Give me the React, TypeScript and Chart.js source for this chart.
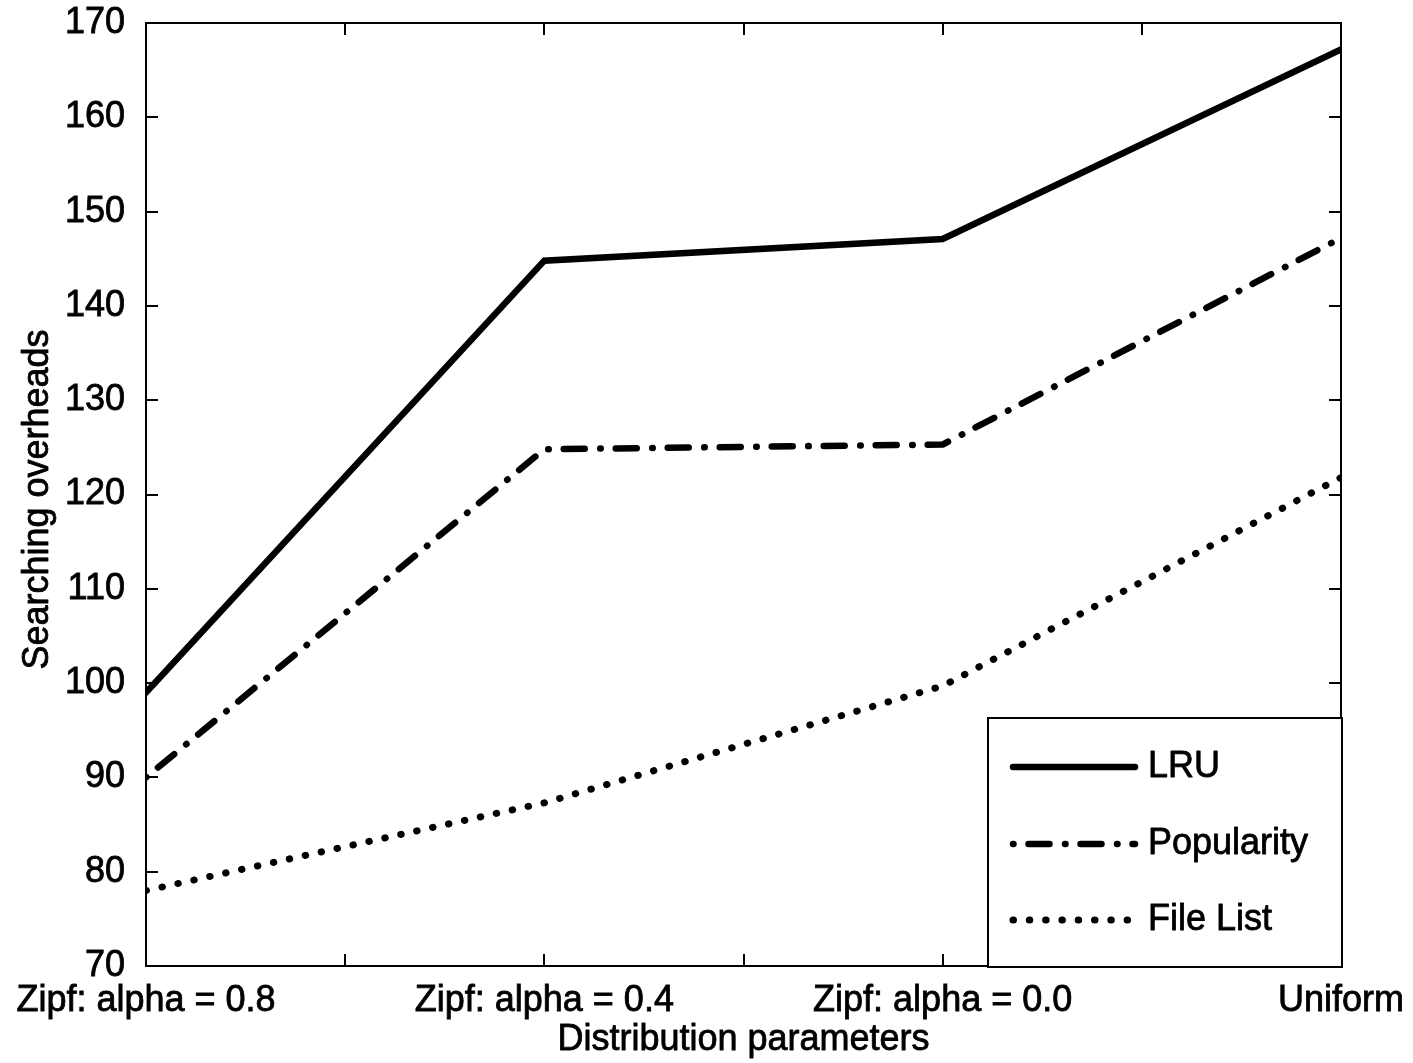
import React, { useEffect, useRef } from 'react';
import { Chart, registerables } from 'chart.js';

Chart.register(...registerables);

// ---- data ----
const categories = ['Zipf: alpha = 0.8', 'Zipf: alpha = 0.4', 'Zipf: alpha = 0.0', 'Uniform'];
const xPositions = [1, 2, 3, 4];
const lruValues = [99, 144.8, 147.1, 167.2];
const popularityValues = [90, 124.8, 125.3, 147.2];
const fileListValues = [78, 87.3, 99.7, 121.8];
const seriesLabels = ['LRU', 'Popularity', 'File List'];
const yMin = 70;
const yMax = 170;
const yStep = 10;
const xStep = 0.5;
const xTitle = 'Distribution parameters';
const yTitle = 'Searching overheads';

const FONT = '"Liberation Sans", Arial, Helvetica, sans-serif';
const W = 1413;
const H = 1063;
const STROKE = 0.8;

const toPoints = (vals: number[]) => vals.map((v, i) => ({ x: xPositions[i], y: v }));

function boldText(ctx: CanvasRenderingContext2D, text: string, x: number, y: number) {
  ctx.fillText(text, x, y);
  ctx.lineWidth = STROKE;
  ctx.strokeStyle = '#000';
  ctx.setLineDash([]);
  ctx.lineJoin = 'round';
  ctx.strokeText(text, x, y);
}

const framePlugin = {
  id: 'matlabFrame',
  beforeDatasetsDraw(chart: any) {
    const { ctx, chartArea: a, scales } = chart;
    const x = scales.x;
    const y = scales.y;
    const tl = 12;
    ctx.save();
    ctx.strokeStyle = '#000';
    ctx.lineWidth = 2;
    ctx.lineCap = 'butt';
    ctx.beginPath();
    x.ticks.forEach((t: any) => {
      const px = Math.round(x.getPixelForValue(t.value));
      ctx.moveTo(px, a.bottom);
      ctx.lineTo(px, a.bottom - tl);
      ctx.moveTo(px, a.top);
      ctx.lineTo(px, a.top + tl);
    });
    y.ticks.forEach((t: any) => {
      const py = Math.round(y.getPixelForValue(t.value));
      ctx.moveTo(a.left, py);
      ctx.lineTo(a.left + tl, py);
      ctx.moveTo(a.right, py);
      ctx.lineTo(a.right - tl, py);
    });
    ctx.stroke();
    ctx.strokeRect(a.left, a.top, a.right - a.left, a.bottom - a.top);
    ctx.restore();
  },
  afterDatasetsDraw(chart: any) {
    const { ctx, chartArea: a } = chart;
    const boxRight = a.right + 1;
    const boxBottom = a.bottom + 1;
    const boxW = 354;
    const boxH = 249;
    const bx = boxRight - boxW;
    const by = boxBottom - boxH;
    ctx.save();
    ctx.fillStyle = '#fff';
    ctx.fillRect(bx, by, boxW, boxH);
    ctx.strokeStyle = '#000';
    ctx.lineWidth = 2;
    ctx.strokeRect(bx, by, boxW, boxH);
    const rowYs = [by + 49, by + 126, by + 202];
    chart.data.datasets.forEach((ds: any, i: number) => {
      const ry = rowYs[i];
      ctx.save();
      ctx.strokeStyle = ds.borderColor;
      ctx.lineWidth = ds.borderWidth;
      ctx.lineCap = ds.borderCapStyle || 'butt';
      ctx.setLineDash(ds.borderDash || []);
      ctx.beginPath();
      ctx.moveTo(bx + 25, ry);
      ctx.lineTo(bx + 147, ry);
      ctx.stroke();
      ctx.restore();
      ctx.save();
      ctx.fillStyle = '#000';
      ctx.font = `36px ${FONT}`;
      ctx.textBaseline = 'middle';
      ctx.textAlign = 'left';
      boldText(ctx, ds.label, bx + 160, ry);
      ctx.restore();
    });
    ctx.restore();
  },
  afterDraw(chart: any) {
    const { ctx, chartArea: a } = chart;
    ctx.save();
    ctx.fillStyle = '#000';
    ctx.font = `36px ${FONT}`;
    ctx.textAlign = 'center';
    ctx.textBaseline = 'middle';
    boldText(ctx, xTitle, (a.left + a.right) / 2, 1040);
    ctx.translate(38, (a.top + a.bottom) / 2 + 5);
    ctx.rotate(-Math.PI / 2);
    boldText(ctx, yTitle, 0, 0);
    ctx.restore();
  },
};

export default function App() {
  const ref = useRef<HTMLCanvasElement | null>(null);

  useEffect(() => {
    document.body.style.margin = '0';
    const canvas = ref.current;
    if (!canvas) return;
    const chart = new Chart(canvas, {
      type: 'line',
      data: {
        datasets: [
          {
            label: seriesLabels[0],
            data: toPoints(lruValues),
            borderColor: '#000',
            borderWidth: 6.5,
            borderJoinStyle: 'miter',
            borderCapStyle: 'round',
            pointRadius: 0,
            fill: false,
            tension: 0,
          },
          {
            label: seriesLabels[1],
            data: toPoints(popularityValues),
            borderColor: '#000',
            borderWidth: 6.5,
            borderDash: [0.5, 15, 21, 15.5],
            borderCapStyle: 'round',
            borderJoinStyle: 'round',
            pointRadius: 0,
            fill: false,
            tension: 0,
          },
          {
            label: seriesLabels[2],
            data: toPoints(fileListValues),
            borderColor: '#000',
            borderWidth: 7,
            borderDash: [0.5, 15.8],
            borderCapStyle: 'round',
            borderJoinStyle: 'round',
            pointRadius: 0,
            fill: false,
            tension: 0,
          },
        ],
      },
      options: {
        animation: false,
        responsive: false,
        maintainAspectRatio: false,
        devicePixelRatio: 1,
        layout: { padding: { top: 23, right: 72, left: 0, bottom: 0 } },
        plugins: {
          legend: { display: false },
          tooltip: { enabled: false },
          title: { display: false },
        },
        scales: {
          x: {
            type: 'linear',
            min: xPositions[0],
            max: xPositions[xPositions.length - 1],
            grid: { display: false },
            border: { display: false },
            ticks: {
              stepSize: xStep,
              autoSkip: false,
              maxRotation: 0,
              minRotation: 0,
              padding: 5,
              color: '#000',
              textStrokeColor: '#000',
              textStrokeWidth: STROKE,
              font: { family: FONT, size: 36 },
              callback: (v: any) => {
                const n = Number(v);
                return Number.isInteger(n) ? categories[n - 1] : '';
              },
            },
            title: { display: false },
            afterFit: (s: any) => {
              s.height = H - 966;
              s.paddingLeft = 0;
              s.paddingRight = 0;
            },
          },
          y: {
            type: 'linear',
            min: yMin,
            max: yMax,
            grid: { display: false },
            border: { display: false },
            ticks: {
              stepSize: yStep,
              padding: 13,
              color: '#000',
              textStrokeColor: '#000',
              textStrokeWidth: STROKE,
              font: { family: FONT, size: 36 },
            },
            title: { display: false },
            afterFit: (s: any) => {
              s.width = 146;
              s.paddingTop = 0;
              s.paddingBottom = 0;
            },
          },
        },
      },
      plugins: [framePlugin],
    } as any);
    return () => chart.destroy();
  }, []);

  return (
    <div style={{ width: W, height: H, background: '#fff' }}>
      <canvas ref={ref} width={W} height={H} style={{ display: 'block', width: W, height: H }} />
    </div>
  );
}
